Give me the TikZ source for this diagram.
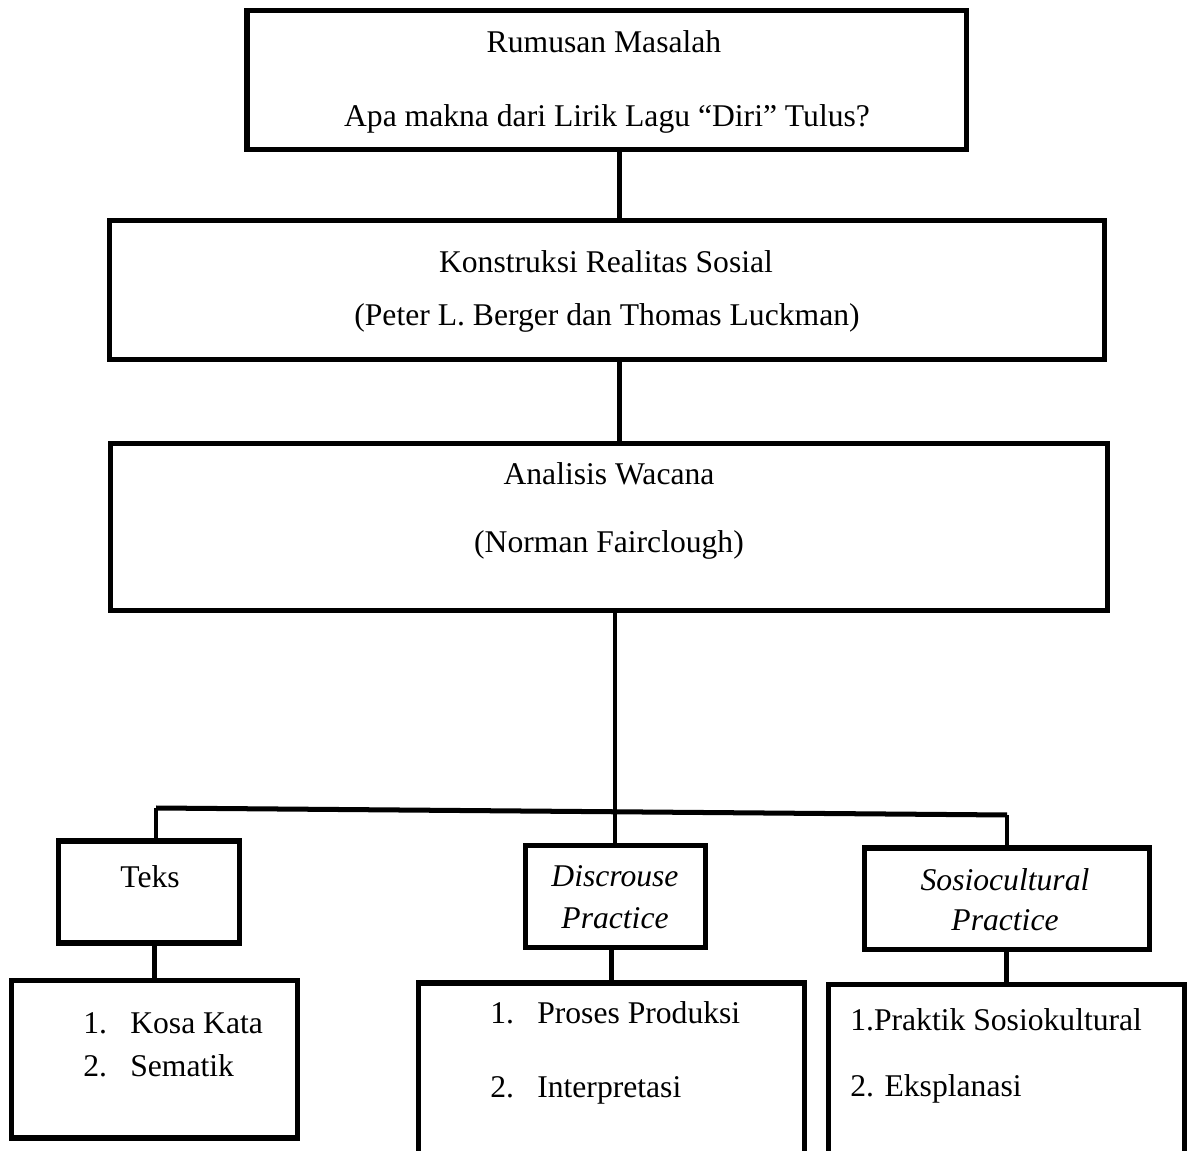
\documentclass[tikz,border=0pt]{standalone}
\usepackage{fontspec}
\setmainfont{Liberation Serif}
\usetikzlibrary{fit}
\tikzset{
  box/.style={draw, line width=2.85pt, inner sep=0pt, fit={#1}},
  link/.style={line width=2.85pt},
  thinlink/.style={line width=2pt},
  lbl/.style={anchor=base, inner sep=0pt},
  listlbl/.style={anchor=base west, inner sep=0pt}
}

\begin{document}
\begin{tikzpicture}[x=0.02cm,y=-0.02cm,font={\fontsize{18}{22}\selectfont}]
\useasboundingbox (0,0) rectangle (1187,1151);
\fill[white] (0,0) rectangle (1187,1151);
\clip (0,0) rectangle (1187,1151);
% upper boxes
\node[box={(247,10.5) (966,150)}] (rumusan) {};
\node[box={(109.5,220.5) (1104,359.5)}] (konstruksi) {};
\node[box={(110.5,444) (1107.5,610.5)}] (analisis) {};
\node[lbl] (rumusanA) at (604,53) {Rumusan Masalah};
\node[lbl] (rumusanB) at (607,127) {Apa makna dari Lirik Lagu “Diri” Tulus?};
\node[lbl] (konstruksiA) at (606,273) {Konstruksi Realitas Sosial};
\node[lbl] (konstruksiB) at (607,326) {(Peter L. Berger dan Thomas Luckman)};
\node[lbl] (analisisA) at (609,485) {Analisis Wacana};
\node[lbl] (analisisB) at (609,553) {(Norman Fairclough)};
% lower boxes
\node[box={(58.5,841) (239.5,943)}] (teks) {};
\node[box={(525,845.5) (705.5,947.5)}] (discrouse) {};
\node[box={(864,848) (1149.5,949.5)}] (sosio) {};
\node[box={(11.5,980.5) (297.5,1138)}] (kosa) {};
\node[box={(418,983) (804.5,1175)}] (produksi) {};
\node[box={(828.5,984.5) (1184,1175)}] (praktik) {};
\node[lbl] (teksA) at (150,888) {Teks};
\node[lbl] (discrouseA) at (615,887) {\itshape Discrouse};
\node[lbl] (discrouseB) at (615,928) {\itshape Practice};
\node[lbl] (sosioA) at (1005,890) {\itshape Sosiocultural};
\node[lbl] (sosioB) at (1005,930) {\itshape Practice};
\node[listlbl] (kosaA) at (83,1033)
  {\begin{tabular}[t]{@{}p{0.94cm}@{}l@{}}1. & Kosa Kata\\[3pt] 2. & Sematik\end{tabular}};
\node[listlbl] (produksiA) at (490,1023)
  {\begin{tabular}[t]{@{}p{0.94cm}@{}l@{}}1. & Proses Produksi\\[20.5pt] 2. & Interpretasi\end{tabular}};
\node[listlbl] (praktikA) at (850,1030)
  {\begin{tabular}[t]{@{}l@{}}1.Praktik Sosiokultural\\[16pt] 2. Eksplanasi\end{tabular}};
% connectors
\coordinate (axis) at (619,0);
\coordinate (barL) at (156,808);
\coordinate (barR) at (1007,815);
\draw[link] (rumusan.south -| axis) -- (konstruksi.north -| axis);
\draw[link] (konstruksi.south -| axis) -- (analisis.north -| axis);
\draw[thinlink] (analisis.south -| discrouse.north) -- (discrouse.north);
\draw[link] (barL) -- (barR);
\draw[thinlink] (barL) -- (barL |- teks.north);
\draw[thinlink] (barR) -- (barR |- sosio.north);
\draw[link] (teks.south -| kosa.north) -- (kosa.north);
\draw[link] (discrouse.south -| produksi.north) -- (produksi.north);
\draw[link] (sosio.south) -- (sosio.south |- praktik.north);
\end{tikzpicture}
\end{document}
